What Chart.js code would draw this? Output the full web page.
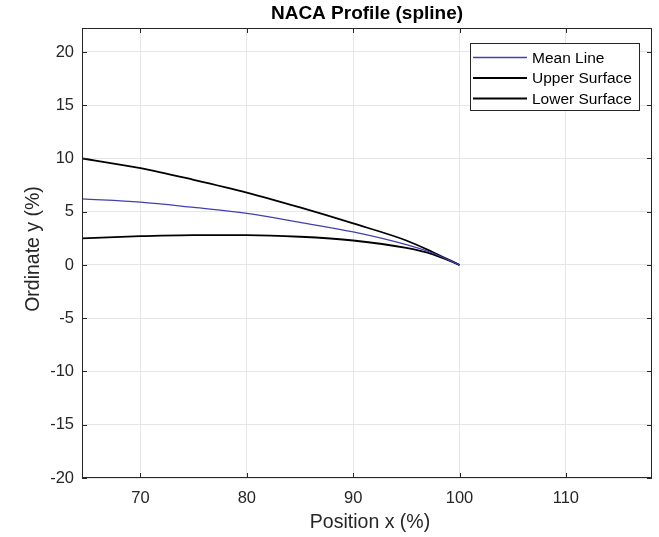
<!DOCTYPE html>
<html>
<head>
<meta charset="utf-8">
<title>NACA Profile (spline)</title>
<script src="https://cdn.jsdelivr.net/npm/chart.js@4"></script>
<style>
  html, body { margin: 0; padding: 0; background: #fff; }
  #wrap { width: 659px; height: 537px; }
</style>
</head>
<body>
<div id="wrap"><canvas id="profileChart" width="659" height="537"></canvas></div>
<script>
// values
const positions = [64.5, 70, 75, 80, 85, 90, 95, 97.5, 100];
const meanLine = [6.2, 5.9, 5.4, 4.85, 4.0, 3.1, 1.9, 1.1, 0];
const upperSurface = [10.0, 9.1, 8.0, 6.8, 5.4, 3.9, 2.3, 1.2, 0];
const lowerSurface = [2.5, 2.7, 2.8, 2.8, 2.65, 2.3, 1.6, 1.0, 0];
const xTicks = [70, 80, 90, 100, 110];
const yTicks = [-20, -15, -10, -5, 0, 5, 10, 15, 20];

const FONT = "'Liberation Sans', Arial, Helvetica, sans-serif";
const AXIS_COLOR = '#262626';

function toPoints(ys) {
    return positions.map((x, i) => ({x: x, y: ys[i]}));
}

// MATLAB-like frame, inward ticks, title, axis labels and legend box
const matlabDecor = {
    id: 'matlabDecor',
    afterDraw(chart) {
        const ctx = chart.ctx;
        const area = chart.chartArea;
        const xs = chart.scales.x;
        const ys = chart.scales.y;
        const tickLen = 5;

        ctx.save();
        ctx.strokeStyle = AXIS_COLOR;
        ctx.lineWidth = 1;
        ctx.strokeRect(area.left + 0.5, area.top + 0.5, area.right - area.left - 1, area.bottom - area.top - 1);

        ctx.beginPath();
        xTicks.forEach(v => {
            const px = Math.round(xs.getPixelForValue(v)) + 0.5;
            ctx.moveTo(px, area.bottom); ctx.lineTo(px, area.bottom - tickLen);
            ctx.moveTo(px, area.top); ctx.lineTo(px, area.top + tickLen);
        });
        yTicks.forEach(v => {
            const py = Math.round(ys.getPixelForValue(v)) + 0.5;
            ctx.moveTo(area.left, py); ctx.lineTo(area.left + tickLen, py);
            ctx.moveTo(area.right, py); ctx.lineTo(area.right - tickLen, py);
        });
        ctx.stroke();

        // title
        ctx.fillStyle = '#000';
        ctx.font = 'bold 19px ' + FONT;
        ctx.textAlign = 'center';
        ctx.textBaseline = 'middle';
        ctx.fillText('NACA Profile (spline)', 367, 14);

        // axis labels
        ctx.fillStyle = AXIS_COLOR;
        ctx.font = '19.5px ' + FONT;
        ctx.fillText('Position x (%)', 370, 523);
        ctx.save();
        ctx.translate(34, 249);
        ctx.rotate(-Math.PI / 2);
        ctx.fillText('Ordinate y (%)', 0, 0);
        ctx.restore();

        // legend
        const box = {left: 470, top: 43, width: 169, height: 67};
        ctx.fillStyle = '#fff';
        ctx.fillRect(box.left, box.top, box.width, box.height);
        ctx.strokeStyle = AXIS_COLOR;
        ctx.lineWidth = 1;
        ctx.strokeRect(box.left + 0.5, box.top + 0.5, box.width, box.height);
        ctx.font = '15.5px ' + FONT;
        ctx.textAlign = 'left';
        chart.data.datasets.forEach((ds, i) => {
            const y = 57.5 + i * 20.5;
            ctx.strokeStyle = ds.borderColor;
            ctx.lineWidth = ds.borderWidth;
            ctx.beginPath();
            ctx.moveTo(473, y); ctx.lineTo(527, y);
            ctx.stroke();
            ctx.fillStyle = '#000';
            ctx.fillText(ds.label, 532, y + 1);
        });
        ctx.restore();
    }
};

document.addEventListener('DOMContentLoaded', function () {
    const ctx = document.getElementById('profileChart').getContext('2d');

    new Chart(ctx, {
        type: 'scatter',
        data: {
            datasets: [
                {label: 'Mean Line', data: toPoints(meanLine), borderColor: '#4040b0', borderWidth: 1.3},
                {label: 'Upper Surface', data: toPoints(upperSurface), borderColor: '#000000', borderWidth: 1.8},
                {label: 'Lower Surface', data: toPoints(lowerSurface), borderColor: '#000000', borderWidth: 1.8}
            ].map(ds => Object.assign(ds, {
                showLine: true,
                pointRadius: 0,
                fill: false,
                cubicInterpolationMode: 'monotone'
            }))
        },
        options: {
            responsive: false,
            animation: false,
            layout: {padding: {top: 28, right: 7, left: 0, bottom: 0}},
            plugins: {
                legend: {display: false},
                tooltip: {enabled: false}
            },
            scales: {
                x: {
                    type: 'linear',
                    min: 64.5,
                    max: 118.1,
                    afterBuildTicks: scale => { scale.ticks = xTicks.map(v => ({value: v})); },
                    afterFit: scale => { scale.height = 59; },
                    border: {display: false},
                    grid: {color: '#e6e6e6', drawTicks: false},
                    ticks: {
                        padding: 11,
                        color: AXIS_COLOR,
                        font: {family: FONT, size: 16.5}
                    }
                },
                y: {
                    type: 'linear',
                    min: -20,
                    max: 22.25,
                    afterBuildTicks: scale => { scale.ticks = yTicks.map(v => ({value: v})); },
                    afterFit: scale => { scale.width = 82; },
                    border: {display: false},
                    grid: {color: '#e6e6e6', drawTicks: false},
                    ticks: {
                        padding: 8,
                        color: AXIS_COLOR,
                        font: {family: FONT, size: 16.5}
                    }
                }
            }
        },
        plugins: [matlabDecor]
    });
});
</script>
</body>
</html>
